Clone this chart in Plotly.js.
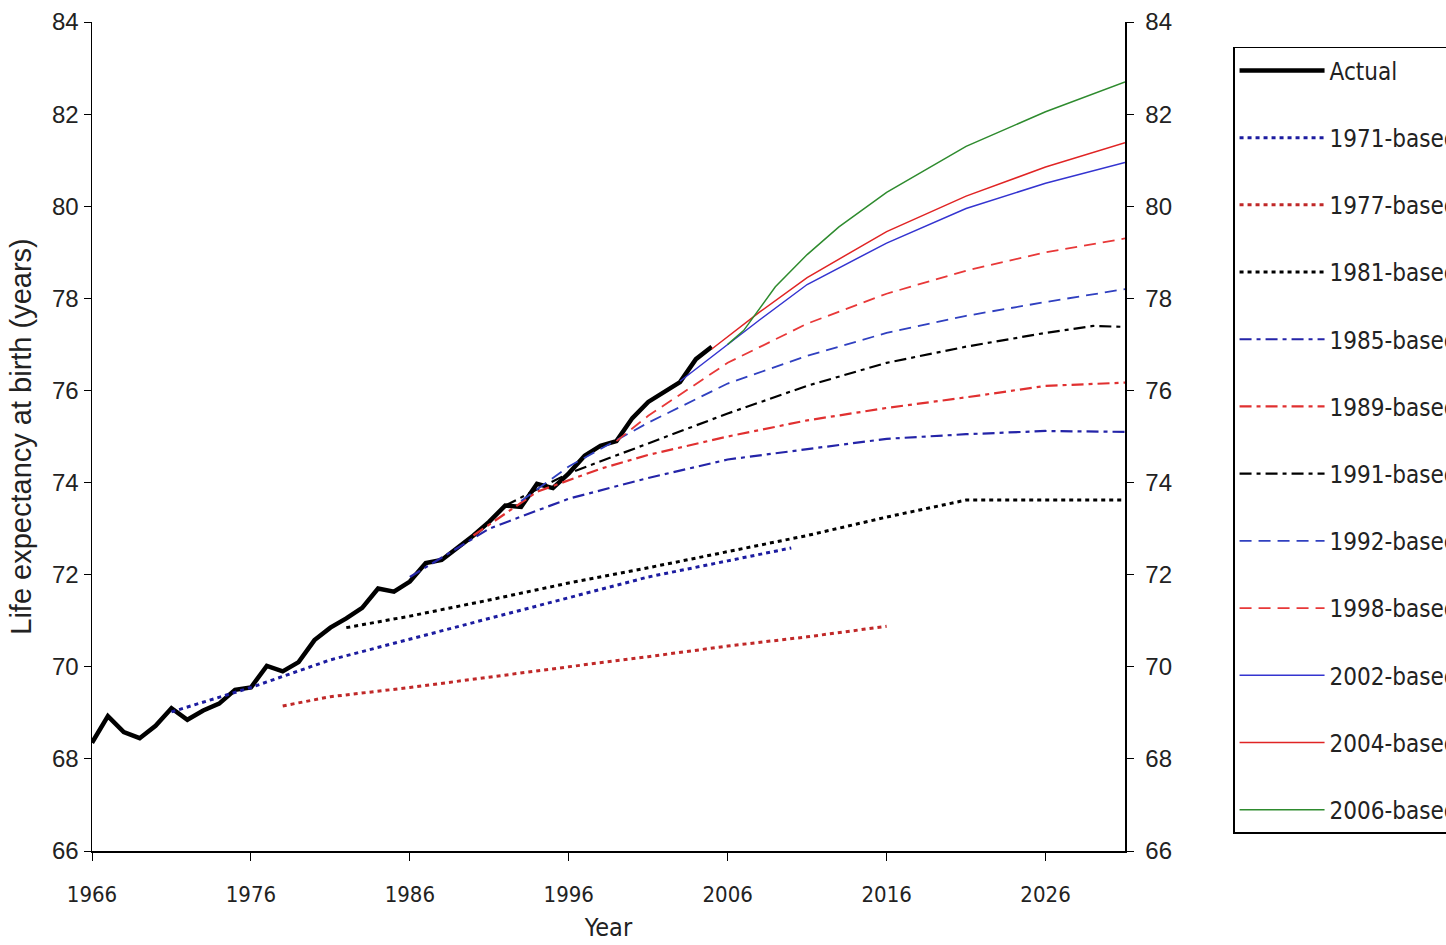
<!DOCTYPE html>
<html>
<head>
<meta charset="utf-8">
<script src="https://cdn.plot.ly/plotly-3.0.1.min.js"></script>
<style>
html,body{margin:0;padding:0;background:#fff;}
#chart{width:1446px;height:945px;}
</style>
</head>
<body>
<div id="chart"></div>
<script>
// ---- Data ----
var actualYears  = [1966,1967,1968,1969,1970,1971,1972,1973,1974,1975,1976,1977,1978,1979,1980,1981,1982,1983,1984,1985,1986,1987,1988,1989,1990,1991,1992,1993,1994,1995,1996,1997,1998,1999,2000,2001,2002,2003,2004,2005];
var actualValues = [68.35,68.93,68.58,68.45,68.72,69.1,68.85,69.05,69.2,69.5,69.55,70.02,69.9,70.1,70.58,70.85,71.05,71.28,71.7,71.63,71.85,72.25,72.32,72.58,72.85,73.15,73.5,73.47,73.97,73.88,74.2,74.58,74.8,74.9,75.4,75.75,75.97,76.18,76.68,76.95];

var p1971Years  = [1971,1976,1981,1986,1991,1996,2001,2006,2010];
var p1971Values = [69.02,69.55,70.15,70.6,71.05,71.5,71.95,72.3,72.58];

var p1977Years  = [1978,1981,1986,1991,1996,2001,2006,2011,2016];
var p1977Values = [69.15,69.35,69.55,69.78,70.0,70.22,70.45,70.65,70.88];

var p1981Years  = [1982,1986,1991,1996,2001,2006,2011,2016,2021,2026,2031];
var p1981Values = [70.85,71.1,71.45,71.82,72.15,72.5,72.85,73.25,73.62,73.62,73.62];

var p1985Years  = [1986,1991,1996,2001,2006,2011,2016,2021,2026,2031];
var p1985Values = [71.95,73.0,73.65,74.1,74.5,74.72,74.95,75.05,75.12,75.1];

var p1989Years  = [1990,1994,1998,2001,2006,2011,2016,2021,2026,2031];
var p1989Values = [72.85,73.8,74.3,74.6,75.0,75.35,75.62,75.85,76.1,76.17];

var p1991Years  = [1992,1996,2001,2006,2011,2016,2021,2026,2029,2031];
var p1991Values = [73.5,74.2,74.85,75.5,76.1,76.6,76.95,77.25,77.4,77.38];

var p1992Years  = [1993,1996,2001,2006,2011,2016,2021,2026,2031];
var p1992Values = [73.6,74.35,75.3,76.15,76.75,77.25,77.62,77.92,78.2];

var p1998Years  = [1999,2001,2006,2011,2016,2021,2026,2031];
var p1998Values = [74.9,75.45,76.6,77.45,78.1,78.6,79.0,79.3];

var p2002Years  = [2003,2006,2008,2011,2016,2021,2026,2031];
var p2002Values = [76.2,77.0,77.53,78.3,79.2,79.95,80.5,80.95];

var p2004Years  = [2005,2008,2011,2016,2021,2026,2031];
var p2004Values = [76.9,77.7,78.45,79.45,80.22,80.85,81.38];

var p2006Years  = [2006,2007,2009,2011,2013,2016,2021,2026,2031];
var p2006Values = [77.0,77.3,78.25,78.95,79.55,80.3,81.3,82.05,82.7];

var xTickVals = [1966,1976,1986,1996,2006,2016,2026];
var yTickVals = [66,68,70,72,74,76,78,80,82,84];

// ---- Styles ----
var narrow = '"Liberation Sans Narrow", "Arial Narrow", "DejaVu Sans Condensed", "Liberation Sans", Arial, sans-serif';
var regular = '"Liberation Sans", Arial, sans-serif';

function tr(name, xs, ys, color, width, dash, group) {
  return {
    type: 'scatter', mode: 'lines', name: name, x: xs, y: ys,
    line: {color: color, width: width, dash: dash, shape: 'linear'},
    legendgroup: group, hoverinfo: 'x+y+name'
  };
}

var dotted = '4px,4px';
var dashdot = '12px,5px,4px,5px';
var dashed = '12px,7px';

var data = [
  tr('Actual', actualYears, actualValues, '#000000', 4.5, 'solid', 'g0'),
  tr('1971-based', p1971Years, p1971Values, '#1c1ca0', 3, dotted, 'g1'),
  tr('1977-based', p1977Years, p1977Values, '#c02828', 3, dotted, 'g2'),
  tr('1981-based', p1981Years, p1981Values, '#000000', 3, dotted, 'g3'),
  tr('1985-based', p1985Years, p1985Values, '#2424a8', 2.2, dashdot, 'g4'),
  tr('1989-based', p1989Years, p1989Values, '#e03030', 2.2, dashdot, 'g5'),
  tr('1991-based', p1991Years, p1991Values, '#000000', 2.2, dashdot, 'g6'),
  tr('1992-based', p1992Years, p1992Values, '#3040c0', 1.8, dashed, 'g7'),
  tr('1998-based', p1998Years, p1998Values, '#e83838', 1.8, dashed, 'g8'),
  tr('2002-based', p2002Years, p2002Values, '#3434d0', 1.5, 'solid', 'g9'),
  tr('2004-based', p2004Years, p2004Values, '#e02424', 1.5, 'solid', 'g10'),
  tr('2006-based', p2006Years, p2006Values, '#2e8b2e', 1.5, 'solid', 'g11'),
  // empty trace that only makes the right-hand axis appear
  {type: 'scatter', mode: 'lines', x: [], y: [], yaxis: 'y2', showlegend: false, hoverinfo: 'skip'}
];

var layout = {
  width: 1446, height: 945,
  paper_bgcolor: '#ffffff', plot_bgcolor: '#ffffff',
  margin: {l: 92, r: 321, t: 22, b: 94, autoexpand: false},
  showlegend: true,
  xaxis: {
    range: [1966, 2031], tickvals: xTickVals, ticktext: xTickVals.map(String),
    showgrid: false, zeroline: false, showline: true, linecolor: '#000', linewidth: 1.5,
    ticks: 'outside', ticklen: 8, tickcolor: '#000', tickwidth: 1,
    ticklabelstandoff: 15,
    tickfont: {family: narrow, size: 22, color: '#222'},
    title: {text: 'Year', font: {family: narrow, size: 25, color: '#222'}, standoff: 12},
    fixedrange: true
  },
  yaxis: {
    range: [66, 84], tickvals: yTickVals,
    showgrid: false, zeroline: false, showline: true, linecolor: '#000', linewidth: 1.5,
    ticks: 'outside', ticklen: 7, tickcolor: '#000', tickwidth: 1,
    tickfont: {family: regular, size: 24, color: '#222'},
    title: {text: 'Life expectancy at birth (years)', font: {family: regular, size: 29, color: '#222'}, standoff: 12},
    fixedrange: true
  },
  yaxis2: {
    range: [66, 84], tickvals: yTickVals, overlaying: 'y', side: 'right', anchor: 'x',
    showgrid: false, zeroline: false, showline: true, linecolor: '#000', linewidth: 1.5,
    ticks: 'outside', ticklen: 7, tickcolor: '#000', tickwidth: 1,
    ticklabelstandoff: 7,
    tickfont: {family: regular, size: 24, color: '#222'},
    fixedrange: true
  },
  legend: {
    x: 1.1046, xanchor: 'left', y: 0.97, yanchor: 'top',
    bordercolor: '#000', borderwidth: 1.5, bgcolor: '#ffffff',
    font: {family: narrow, size: 24, color: '#222'},
    traceorder: 'grouped', tracegroupgap: 33, itemwidth: 85,
    valign: 'middle'
  }
};

Plotly.newPlot('chart', data, layout, {displayModeBar: false, staticPlot: true});
</script>
</body>
</html>
